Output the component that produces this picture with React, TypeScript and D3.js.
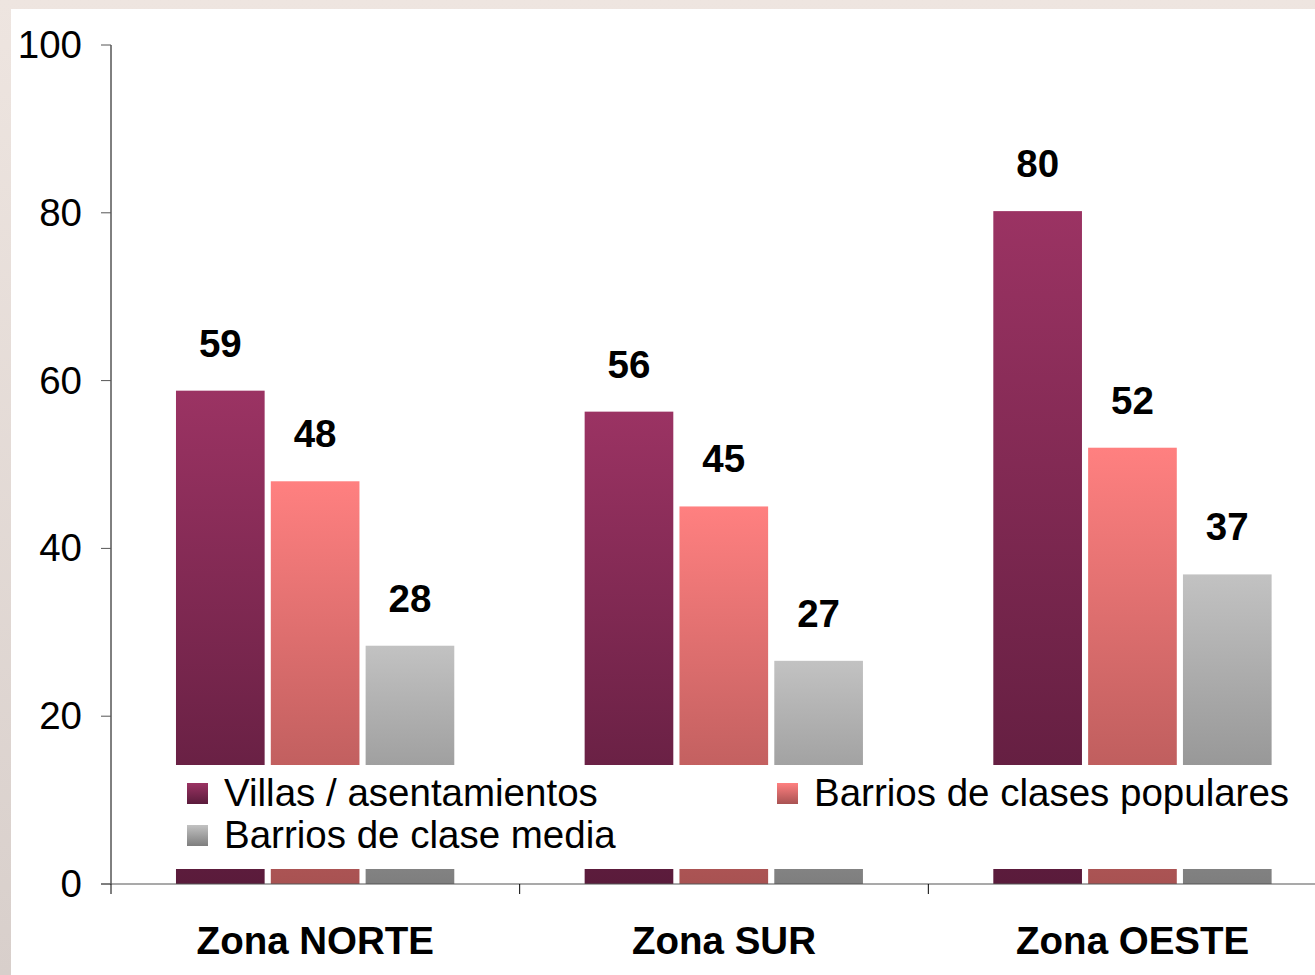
import React from "react";
import * as d3 from "d3";

const categories = ["Zona NORTE", "Zona SUR", "Zona OESTE"];
const seriesNames = ["Villas / asentamientos", "Barrios de clases populares", "Barrios de clase media"];
const villas = [58.8, 56.3, 80.2];
const populares = [48.0, 45.0, 52.0];
const media = [28.4, 26.6, 36.9];
const yTicks = [0, 20, 40, 60, 80, 100];

const seriesValues = [villas, populares, media];
const gradIds = ["gVillas", "gPop", "gMedia"];
const gradStops = [
  ["#9B3363", "#5A1B3B"],
  ["#FF8080", "#A85252"],
  ["#C2C2C2", "#7E7E7E"],
];

const W = 1315;
const H = 975;
const FONT = "'Liberation Sans', Arial, sans-serif";
const FS = 38.5;

export default function App() {
  const y = d3.scaleLinear().domain([0, 100]).range([884, 45]);
  const x0 = d3.scaleBand<string>().domain(categories).range([111, 1337]).padding(0);
  const bw = x0.bandwidth();
  const x1 = d3
    .scaleBand<number>()
    .domain([0, 1, 2])
    .range([bw * 0.159, bw * 0.84])
    .paddingInner(0.065)
    .paddingOuter(0);

  return (
    <svg width={W} height={H} style={{ position: "absolute", left: 0, top: 0 }}>
      <defs>
        <linearGradient id="bgGrad" x1="0" y1="0" x2="0" y2="1">
          <stop offset="0" stopColor="#EEE5E0" />
          <stop offset="1" stopColor="#D8CFCB" />
        </linearGradient>
        {gradIds.map((id, i) => (
          <linearGradient key={id} id={id} x1="0" y1="0" x2="0" y2="1">
            <stop offset="0" stopColor={gradStops[i][0]} />
            <stop offset="1" stopColor={gradStops[i][1]} />
          </linearGradient>
        ))}
      </defs>
      <rect x={0} y={0} width={W} height={H} fill="url(#bgGrad)" />
      <rect x={11} y={9} width={W - 11} height={H - 9} fill="#FFFFFF" />

      {/* bars */}
      {categories.map((c, ci) => (
        <g key={c} transform={`translate(${x0(c)},0)`}>
          {seriesValues.map((vals, si) => {
            const v = vals[ci];
            const bx = x1(si)!;
            const w = x1.bandwidth();
            return (
              <g key={si}>
                <rect x={bx} y={y(v)} width={w} height={y(0) - y(v)} fill={`url(#${gradIds[si]})`} />
                <text
                  x={bx + w / 2}
                  y={y(v) - 34}
                  textAnchor="middle"
                  fontFamily={FONT}
                  fontWeight="bold"
                  fontSize={FS}
                  fill="#000"
                >
                  {Math.round(v)}
                </text>
              </g>
            );
          })}
        </g>
      ))}

      {/* legend box */}
      <rect x={165} y={765} width={1145} height={104} fill="#FFFFFF" />
      {[
        { si: 0, x: 187, yb: 806 },
        { si: 1, x: 777, yb: 806 },
        { si: 2, x: 187, yb: 848 },
      ].map(({ si, x, yb }) => (
        <g key={si}>
          <rect x={x} y={yb - 23} width={21} height={21} fill={`url(#${gradIds[si]})`} />
          <text x={x + 37} y={yb} fontFamily={FONT} fontSize={FS} fill="#000">
            {seriesNames[si]}
          </text>
        </g>
      ))}

      {/* y axis */}
      <line x1={111} x2={111} y1={y(100)} y2={y(0)} stroke="#000" strokeWidth={1} />
      {yTicks.map((t) => (
        <g key={t}>
          <line x1={101} x2={111} y1={y(t)} y2={y(t)} stroke="#555" strokeWidth={1} />
          <text
            x={82}
            y={y(t) + 13}
            textAnchor="end"
            fontFamily={FONT}
            fontSize={FS}
            fill="#000"
          >
            {t}
          </text>
        </g>
      ))}

      {/* x axis */}
      <line x1={101} x2={W} y1={y(0)} y2={y(0)} stroke="#555" strokeWidth={1.2} />
      {categories.map((c, i) =>
        i === 0 ? null : (
          <line key={c} x1={x0(c)!} x2={x0(c)!} y1={y(0)} y2={y(0) + 10} stroke="#000" strokeWidth={1} />
        )
      )}
      <line x1={111} x2={111} y1={y(0)} y2={y(0) + 10} stroke="#000" strokeWidth={1} />
      {categories.map((c) => (
        <text
          key={c}
          x={x0(c)! + bw / 2}
          y={954}
          textAnchor="middle"
          fontFamily={FONT}
          fontWeight="bold"
          fontSize={FS}
          fill="#000"
        >
          {c}
        </text>
      ))}
    </svg>
  );
}
